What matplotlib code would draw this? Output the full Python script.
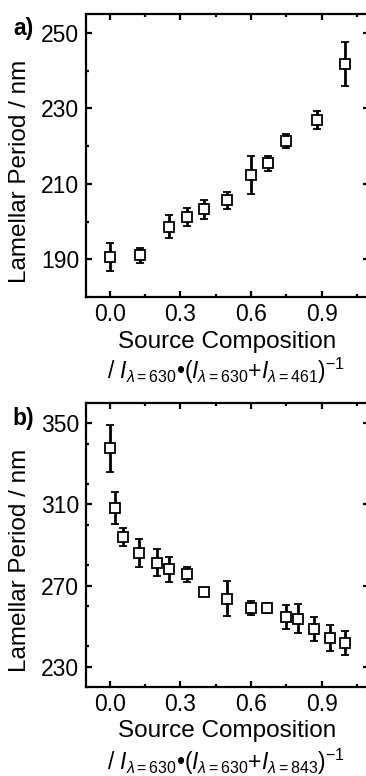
import matplotlib
matplotlib.use("Agg")
import matplotlib.pyplot as plt
from matplotlib.ticker import MultipleLocator

plt.rcParams['font.family'] = ['Liberation Sans', 'DejaVu Sans']
plt.rcParams['mathtext.fontset'] = 'custom'
plt.rcParams['mathtext.rm'] = 'Liberation Sans'
plt.rcParams['mathtext.it'] = 'Liberation Sans:italic'

# Panel a data
xa = [0.0, 0.13, 0.25, 0.33, 0.40, 0.50, 0.60, 0.67, 0.75, 0.88, 1.0]
ya = [190.6, 191.0, 198.6, 201.2, 203.2, 205.6, 212.3, 215.4, 221.3, 226.9, 241.8]
ea = [3.6, 2.0, 3.0, 2.3, 2.6, 2.3, 5.0, 2.0, 1.9, 2.4, 5.8]

# Panel b data
xb = [0.0, 0.025, 0.056, 0.125, 0.2, 0.25, 0.33, 0.40, 0.50, 0.60, 0.667,
      0.75, 0.80, 0.865, 0.935, 1.0]
yb = [337.6, 308.3, 294.0, 286.0, 281.3, 278.0, 275.5, 266.8, 263.6, 259.1,
      259.1, 254.5, 253.7, 248.7, 244.2, 241.6]
eb = [11.5, 8.0, 4.3, 7.0, 6.5, 6.2, 3.5, 2.0, 8.5, 3.5, 2.5, 5.8, 7.2, 6.0,
      6.3, 5.8]

xticks = [0.0, 0.3, 0.6, 0.9]
xticklabels = ['0.0', '0.3', '0.6', '0.9']
ylabel = 'Lamellar Period / nm'
xlabel1 = 'Source Composition'
xlabel_a = r'/ $\mathit{I}_{\lambda=630}$•($\mathit{I}_{\lambda=630}$+$\mathit{I}_{\lambda=461}$)$^{-1}$'
xlabel_b = r'/ $\mathit{I}_{\lambda=630}$•($\mathit{I}_{\lambda=630}$+$\mathit{I}_{\lambda=843}$)$^{-1}$'

W, H = 366, 776
fig = plt.figure(figsize=(W / 100, H / 100), dpi=100)

def px_axes(left, top, right, bottom):
    return fig.add_axes([left / W, 1 - bottom / H, (right - left) / W, (bottom - top) / H])

axa = px_axes(86, 14, 369, 297)
axb = px_axes(86, 403, 369, 687)

def style(ax, ylim, ymin, yticks):
    ax.set_xlim(-0.1, 1.1)
    ax.set_ylim(*ylim)
    ax.set_xticks(xticks)
    ax.set_xticklabels(xticklabels)
    ax.xaxis.set_minor_locator(MultipleLocator(0.15))
    ax.set_yticks(yticks)
    ax.yaxis.set_minor_locator(MultipleLocator(ymin))
    for s in ax.spines.values():
        s.set_linewidth(1.6)
    ax.tick_params(which='both', direction='in', top=True, right=True,
                   labelsize=16.5, width=1.6)
    ax.tick_params(axis='x', which='major', pad=4)
    ax.tick_params(axis='y', which='major', pad=5)
    ax.tick_params(which='major', length=4.5)
    ax.tick_params(which='minor', length=2.5)
    ax.set_ylabel(ylabel, fontsize=17.5)
    ax.yaxis.set_label_coords((31 - 86) / 283, 0.445)

def draw(ax, x, y, e):
    ax.errorbar(x, y, yerr=e, fmt='s', mfc='white', mec='black', mew=1.3,
                ms=6.5, ecolor='black', elinewidth=2.0, capsize=3,
                capthick=2.2, color='black', zorder=3)

draw(axa, xa, ya, ea)
style(axa, (180, 255), 10, [190, 210, 230, 250])
draw(axb, xb, yb, eb)
style(axb, (220, 360), 20, [230, 270, 310, 350])

fig.text(227 / W, 1 - 342 / H, xlabel1, fontsize=17.5, ha='center', va='center')
fig.text(227 / W, 1 - 731 / H, xlabel1, fontsize=17.5, ha='center', va='center')
fig.text(226 / W, 1 - 371 / H, xlabel_a, fontsize=16.5, ha='center', va='center')
fig.text(226 / W, 1 - 762 / H, xlabel_b, fontsize=16.5, ha='center', va='center')

fig.text(13 / W, 1 - 29 / H, 'a)', fontsize=16.5, fontweight='bold', ha='left', va='center')
fig.text(12 / W, 1 - 418 / H, 'b)', fontsize=16.5, fontweight='bold', ha='left', va='center')

fig.savefig('out.png', dpi=100)
